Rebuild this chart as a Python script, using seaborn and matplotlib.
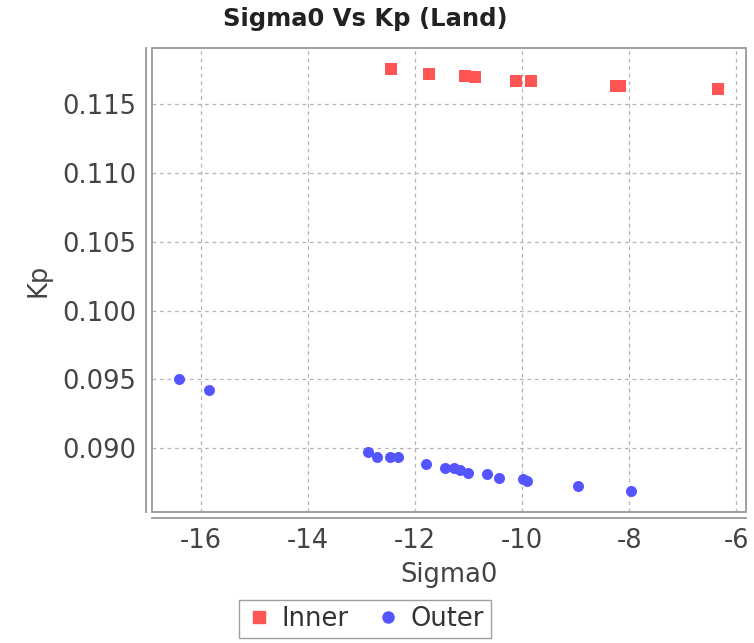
import numpy as np
import pandas as pd
import matplotlib
matplotlib.use("Agg")
import matplotlib.pyplot as plt
import seaborn as sns
from matplotlib.patches import Rectangle
from matplotlib.lines import Line2D
from matplotlib.ticker import FormatStrFormatter

# ---- data ----
series_names = ["Inner", "Outer"]
inner_sigma0 = [-12.44, -11.73, -11.07, -10.87, -10.11, -9.84, -8.24, -8.17, -6.35]
inner_kp = [0.11754, 0.11718, 0.11708, 0.11696, 0.11672, 0.11672, 0.11635, 0.11635, 0.11613]
outer_sigma0 = [-16.40, -15.84, -12.88, -12.71, -12.47, -12.32, -11.80, -11.43, -11.27,
                -11.15, -11.01, -10.65, -10.43, -9.99, -9.90, -8.95, -7.97]
outer_kp = [0.0950, 0.0942, 0.08975, 0.08935, 0.08935, 0.08935, 0.08888, 0.08857, 0.08857,
            0.08845, 0.08820, 0.08811, 0.08786, 0.08775, 0.08760, 0.08728, 0.08692]
x_ticks = [-16, -14, -12, -10, -8, -6]
y_ticks = [0.090, 0.095, 0.100, 0.105, 0.110, 0.115]
title = "Sigma0 Vs Kp (Land)"
x_label = "Sigma0"
y_label = "Kp"

inner_color = "#FF5555"
outer_color = "#5555FF"

df_inner = pd.DataFrame({"Sigma0": inner_sigma0, "Kp": inner_kp, "Series": series_names[0]})
df_outer = pd.DataFrame({"Sigma0": outer_sigma0, "Kp": outer_kp, "Series": series_names[1]})

sns.set_theme(style="white")
plt.rcParams["font.family"] = ["DejaVu Sans"]
plt.rcParams["axes.unicode_minus"] = False

W, H = 754, 643
fig = plt.figure(figsize=(W / 100, H / 100), dpi=100)
L, R, T, B = 152.3, 745.7, 48.3, 511.7
ax = fig.add_axes([L / W, 1 - B / H, (R - L) / W, (B - T) / H])
ax.set_facecolor("white")

sns.scatterplot(data=df_inner, x="Sigma0", y="Kp", marker="s", color=inner_color,
                s=74, linewidth=0, ax=ax, zorder=3, legend=False)
sns.scatterplot(data=df_outer, x="Sigma0", y="Kp", marker="o", color=outer_color,
                s=63, linewidth=0, ax=ax, zorder=3, legend=False)

ax.set_xlim(-16.905, -5.824)
ax.set_ylim(0.08539, 0.11907)
ax.set_xticks(x_ticks)
ax.set_yticks(y_ticks)
ax.yaxis.set_major_formatter(FormatStrFormatter("%.3f"))

ax.grid(True, linestyle=(0, (3, 3)), color="#b4b4b4", linewidth=0.9, zorder=0)
ax.set_axisbelow(True)

# offset axis lines (left/bottom) and plain frame
for side in ["top", "right"]:
    ax.spines[side].set_visible(False)
for side in ["left", "bottom"]:
    ax.spines[side].set_position(("outward", 4.5))
    ax.spines[side].set_color("#999999")
    ax.spines[side].set_linewidth(1.3)
ax.add_patch(Rectangle((0, 0), 1, 1, transform=ax.transAxes, fill=False,
                       edgecolor="#999999", linewidth=1.3, clip_on=False, zorder=4))

ax.tick_params(axis="both", direction="out", length=4, width=1.0, color="#999999",
               labelsize=18.5, labelcolor="#444444", pad=3)

ax.set_xlabel(x_label, fontsize=18.5, color="#444444", labelpad=6)
ax.set_ylabel(y_label, fontsize=18.5, color="#444444", labelpad=8)

fig.text(365 / W, 1 - 19 / H, title, ha="center", va="center", fontsize=17.5,
         fontweight="bold", color="#222222")

handles = [Line2D([], [], marker="s", color=inner_color, linestyle="none", markersize=8.6),
           Line2D([], [], marker="o", color=outer_color, linestyle="none", markersize=8.0)]
leg = fig.legend(handles=handles, labels=series_names, loc="center",
                 bbox_to_anchor=(365 / W, 1 - 619 / H), ncol=2, frameon=True,
                 fancybox=False, edgecolor="#888888", fontsize=18.5, handletextpad=0.4,
                 columnspacing=1.0, borderpad=0.25, handlelength=1.0)
leg.get_frame().set_linewidth(1.0)
for t in leg.get_texts():
    t.set_color("#333333")

fig.savefig("out.png", dpi=100, facecolor="white")
